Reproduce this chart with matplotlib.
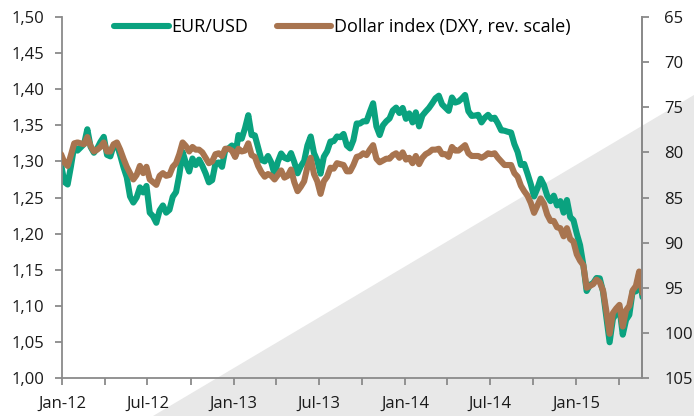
import numpy as np
import pandas as pd
import matplotlib
matplotlib.use("Agg")
import matplotlib.pyplot as plt
import matplotlib.dates as mdates
from matplotlib.patches import Polygon
from matplotlib.ticker import FuncFormatter, MultipleLocator

plt.rcParams["font.family"] = ["Open Sans", "DejaVu Sans"]

# weekly (Friday) closes, Dec-2011 .. May-2015
eurusd = [1.2960,
          # 2012
          1.2716, 1.2680, 1.2930, 1.3210, 1.3150, 1.3195, 1.3240, 1.3445, 1.3200, 1.3120, 1.3180, 1.3270, 1.3340,
          1.3090, 1.3070, 1.3220, 1.3235, 1.3085, 1.2920, 1.2780, 1.2515, 1.2430, 1.2500, 1.2640, 1.2570, 1.2660,
          1.2290, 1.2240, 1.2150, 1.2320, 1.2390, 1.2290, 1.2330, 1.2510, 1.2575, 1.2815, 1.3130, 1.2980, 1.2860,
          1.3040, 1.2950, 1.3025, 1.2940, 1.2835, 1.2710, 1.2740, 1.2970, 1.2985, 1.2925, 1.3165, 1.3180, 1.3220,
          # 2013
          1.3070, 1.3365, 1.3315, 1.3460, 1.3640, 1.3365, 1.3360, 1.3190, 1.3020, 1.3000, 1.3075, 1.2985, 1.2820,
          1.2995, 1.3110, 1.3050, 1.3030, 1.3115, 1.2990, 1.2835, 1.2935, 1.3005, 1.3220, 1.3345, 1.3115, 1.3010,
          1.2830, 1.3065, 1.3140, 1.3275, 1.3280, 1.3345, 1.3335, 1.3380, 1.3220, 1.3180, 1.3295, 1.3525, 1.3525,
          1.3555, 1.3555, 1.3685, 1.3805, 1.3485, 1.3365, 1.3500, 1.3555, 1.3595, 1.3705, 1.3745, 1.3670, 1.3740,
          # 2014
          1.3590, 1.3665, 1.3540, 1.3680, 1.3485, 1.3635, 1.3690, 1.3740, 1.3805, 1.3875, 1.3910, 1.3790, 1.3745,
          1.3700, 1.3885, 1.3815, 1.3830, 1.3870, 1.3920, 1.3695, 1.3630, 1.3635, 1.3645, 1.3540, 1.3605, 1.3645,
          1.3590, 1.3605, 1.3525, 1.3430, 1.3425, 1.3410, 1.3400, 1.3240, 1.3130, 1.2950, 1.2965, 1.2830, 1.2685,
          1.2515, 1.2625, 1.2760, 1.2670, 1.2525, 1.2450, 1.2525, 1.2390, 1.2450, 1.2290, 1.2465, 1.2230, 1.2185,
          # 2015
          1.2000, 1.1840, 1.1565, 1.1205, 1.1290, 1.1315, 1.1385, 1.1380, 1.1195, 1.0845, 1.0495, 1.0820, 1.0890,
          1.0970, 1.0600, 1.0805, 1.0875, 1.1200, 1.1200, 1.1445, 1.1120]

dxy = [80.2,
       # 2012
       81.1, 81.5, 80.3, 79.0, 78.9, 79.0, 79.1, 78.3, 79.3, 79.9, 79.7, 79.4, 78.9,
       79.9, 79.9, 79.1, 78.9, 79.7, 80.7, 81.6, 82.3, 83.0, 82.5, 81.5, 82.3, 81.6,
       83.0, 83.3, 83.6, 82.6, 82.3, 82.6, 82.5, 81.6, 81.2, 80.2, 78.9, 79.3, 79.9,
       79.4, 79.7, 79.7, 80.0, 80.6, 81.2, 81.0, 80.2, 80.1, 80.4, 79.6, 79.6, 79.8,
       # 2013
       80.5, 79.6, 79.9, 79.8, 79.0, 80.3, 80.5, 81.5, 82.2, 82.7, 82.4, 82.6, 83.0,
       82.5, 82.0, 82.8, 82.6, 81.9, 83.3, 84.3, 83.8, 83.2, 81.6, 80.6, 82.4, 83.2,
       84.6, 83.2, 82.7, 81.7, 81.8, 81.2, 81.3, 81.4, 82.1, 82.1, 81.4, 80.5, 80.4,
       80.1, 80.3, 79.7, 79.2, 80.7, 81.1, 80.9, 80.7, 80.7, 80.3, 80.1, 80.6, 80.0,
       # 2014
       80.8, 80.6, 81.2, 80.4, 81.3, 80.6, 80.2, 80.0, 79.7, 79.7, 79.6, 80.2, 80.2,
       80.5, 79.4, 79.8, 79.8, 79.5, 79.2, 80.1, 80.4, 80.4, 80.4, 80.6, 80.4, 80.1,
       80.2, 80.1, 80.6, 81.0, 81.4, 81.4, 81.4, 82.3, 82.7, 83.7, 84.3, 84.8, 85.6,
       86.7, 85.9, 85.1, 85.7, 86.9, 87.6, 87.6, 88.3, 88.4, 89.3, 88.4, 89.6, 89.9,
       # 2015
       91.3, 92.0, 92.5, 95.0, 94.8, 94.6, 94.1, 94.4, 95.3, 97.6, 100.1, 97.8, 97.3,
       96.9, 99.3, 97.5, 97.0, 95.3, 94.8, 93.2, 95.6]

dates = pd.date_range("2011-12-30", periods=len(eurusd), freq="W-FRI")

series_labels = ["EUR/USD", "Dollar index (DXY, rev. scale)"]
green = "#0aa27f"
brown = "#a8744f"
grey = "#8a8a8a"

fig = plt.figure(figsize=(6.94, 4.16), dpi=100)

# shaded wedge across the lower right of the figure
fig.patches.append(Polygon([(153 / 694, 0), (1, 1 - 95 / 416), (1, 0)], closed=True,
                           transform=fig.transFigure, facecolor="#e8e8e8",
                           edgecolor="none", zorder=-1))

ax = fig.add_axes([62 / 694, 38 / 416, 580 / 694, 361 / 416])
ax.patch.set_facecolor("none")
ax2 = ax.twinx()
ax2.patch.set_facecolor("none")

l1, = ax.plot(dates, eurusd, color=green, lw=4.4, solid_capstyle="round",
              solid_joinstyle="round", label=series_labels[0])
l2, = ax2.plot(dates, dxy, color=brown, lw=4.4, solid_capstyle="round",
               solid_joinstyle="round", label=series_labels[1])

ax.set_xlim(pd.Timestamp("2012-01-01"), pd.Timestamp("2015-05-21"))
ax.set_ylim(1.00, 1.50)
ax2.set_ylim(105, 65)

ax.yaxis.set_major_locator(MultipleLocator(0.05))
ax.yaxis.set_major_formatter(FuncFormatter(lambda v, _: f"{v:.2f}".replace(".", ",")))
ax2.yaxis.set_major_locator(MultipleLocator(5))

ax.xaxis.set_major_locator(mdates.MonthLocator(bymonth=[1, 7]))
ax.xaxis.set_minor_locator(mdates.MonthLocator(bymonth=[4, 10]))
ax.xaxis.set_major_formatter(mdates.DateFormatter("%b-%y"))

for a in (ax, ax2):
    a.spines["top"].set_visible(False)
    for s in ("left", "right", "bottom"):
        a.spines[s].set_color(grey)
        a.spines[s].set_linewidth(1.3)
    a.tick_params(which="both", color=grey, width=1.3, length=5,
                  labelsize=12, labelcolor="#1a1a1a")

ax.tick_params(axis="y", pad=8)
ax2.tick_params(axis="y", pad=11)
ax.tick_params(axis="x", pad=8)
ax2.spines["left"].set_visible(False)
ax2.spines["bottom"].set_visible(False)

leg = ax2.legend([l1, l2], series_labels, loc="center", bbox_to_anchor=(0.4935, 1 - 27 / 416),
                 bbox_transform=fig.transFigure, ncol=2, frameon=False, fontsize=13,
                 handlelength=3.0, handletextpad=0.15, columnspacing=1.6)
for h in leg.get_lines():
    h.set_linewidth(4.4)
    h.set_solid_capstyle("round")

fig.savefig("out.png", dpi=100)
